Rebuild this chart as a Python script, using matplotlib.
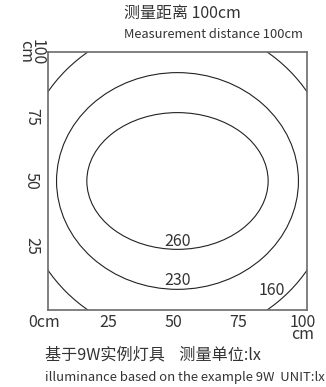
"""Isolux chart for a 9W lamp at 100cm measuring distance."""

import matplotlib
matplotlib.use("Agg")
import matplotlib.pyplot as plt
from matplotlib.patches import Ellipse
from matplotlib.transforms import ScaledTranslation

plt.rcParams["font.family"] = ["Noto Sans CJK SC", "DejaVu Sans"]

# contour levels (lx) and the ellipse each one traces, in cm
levels = [260, 230, 160]
widths = [70.0, 93.4, 121.6]
heights = [53.0, 84.0, 121.6]
center = (50.0, 50.0)
label_xy = [(50.2, 26.5), (50.2, 11.5), (86.5, 7.6)]

xticks = [0, 25, 50, 75, 100]
xticklabels = ["0cm", "25", "50", "75", "100\ncm"]
yticks = [25, 50, 75, 100]
yticklabels = ["25", "50", "75", "100\ncm"]

TXT = "#333333"

fig = plt.figure(figsize=(3.26, 3.87), dpi=100)
ax = fig.add_axes([0.1472, 0.199, 0.7945, 0.6667])
ax.set_xlim(0, 100)
ax.set_ylim(0, 100)

for lvl, w, h, (tx, ty) in zip(levels, widths, heights, label_xy):
    ax.add_patch(Ellipse(center, w, h, fill=False, ec="#222222", lw=0.8))
    ax.text(tx, ty, str(lvl), ha="center", va="center", fontsize=11.5, color=TXT)

for s in ax.spines.values():
    s.set_color("#6b6b6b")
    s.set_linewidth(1.2)

ax.set_xticks(xticks)
ax.set_xticklabels(xticklabels, fontsize=11.5, color=TXT, linespacing=0.6,
                   va="top")
ax.set_yticks(yticks)
ax.set_yticklabels(yticklabels, fontsize=11.5, color=TXT, rotation=-90,
                   va="center", ha="center", linespacing=0.6)
ax.tick_params(length=0, pad=3)
ax.tick_params(axis="y", pad=12)
shift = ScaledTranslation(-3 / 72, 0, fig.dpi_scale_trans)
for lab in ax.get_xticklabels():
    lab.set_transform(lab.get_transform() + shift)

fig.text(124 / 326, 1 - 13 / 387, "测量距离 100cm", fontsize=11.5, color=TXT,
         ha="left", va="center")
fig.text(124 / 326, 1 - 34 / 387, "Measurement distance 100cm", fontsize=9.3,
         color=TXT, ha="left", va="center")
fig.text(45 / 326, 1 - 355 / 387, "基于9W实例灯具    测量单位:lx", fontsize=11.6,
         color=TXT, ha="left", va="center")
fig.text(45 / 326, 1 - 377 / 387, "illuminance based on the example 9W  UNIT:lx",
         fontsize=9.4, color=TXT, ha="left", va="center")

fig.savefig("out.png", dpi=100)
